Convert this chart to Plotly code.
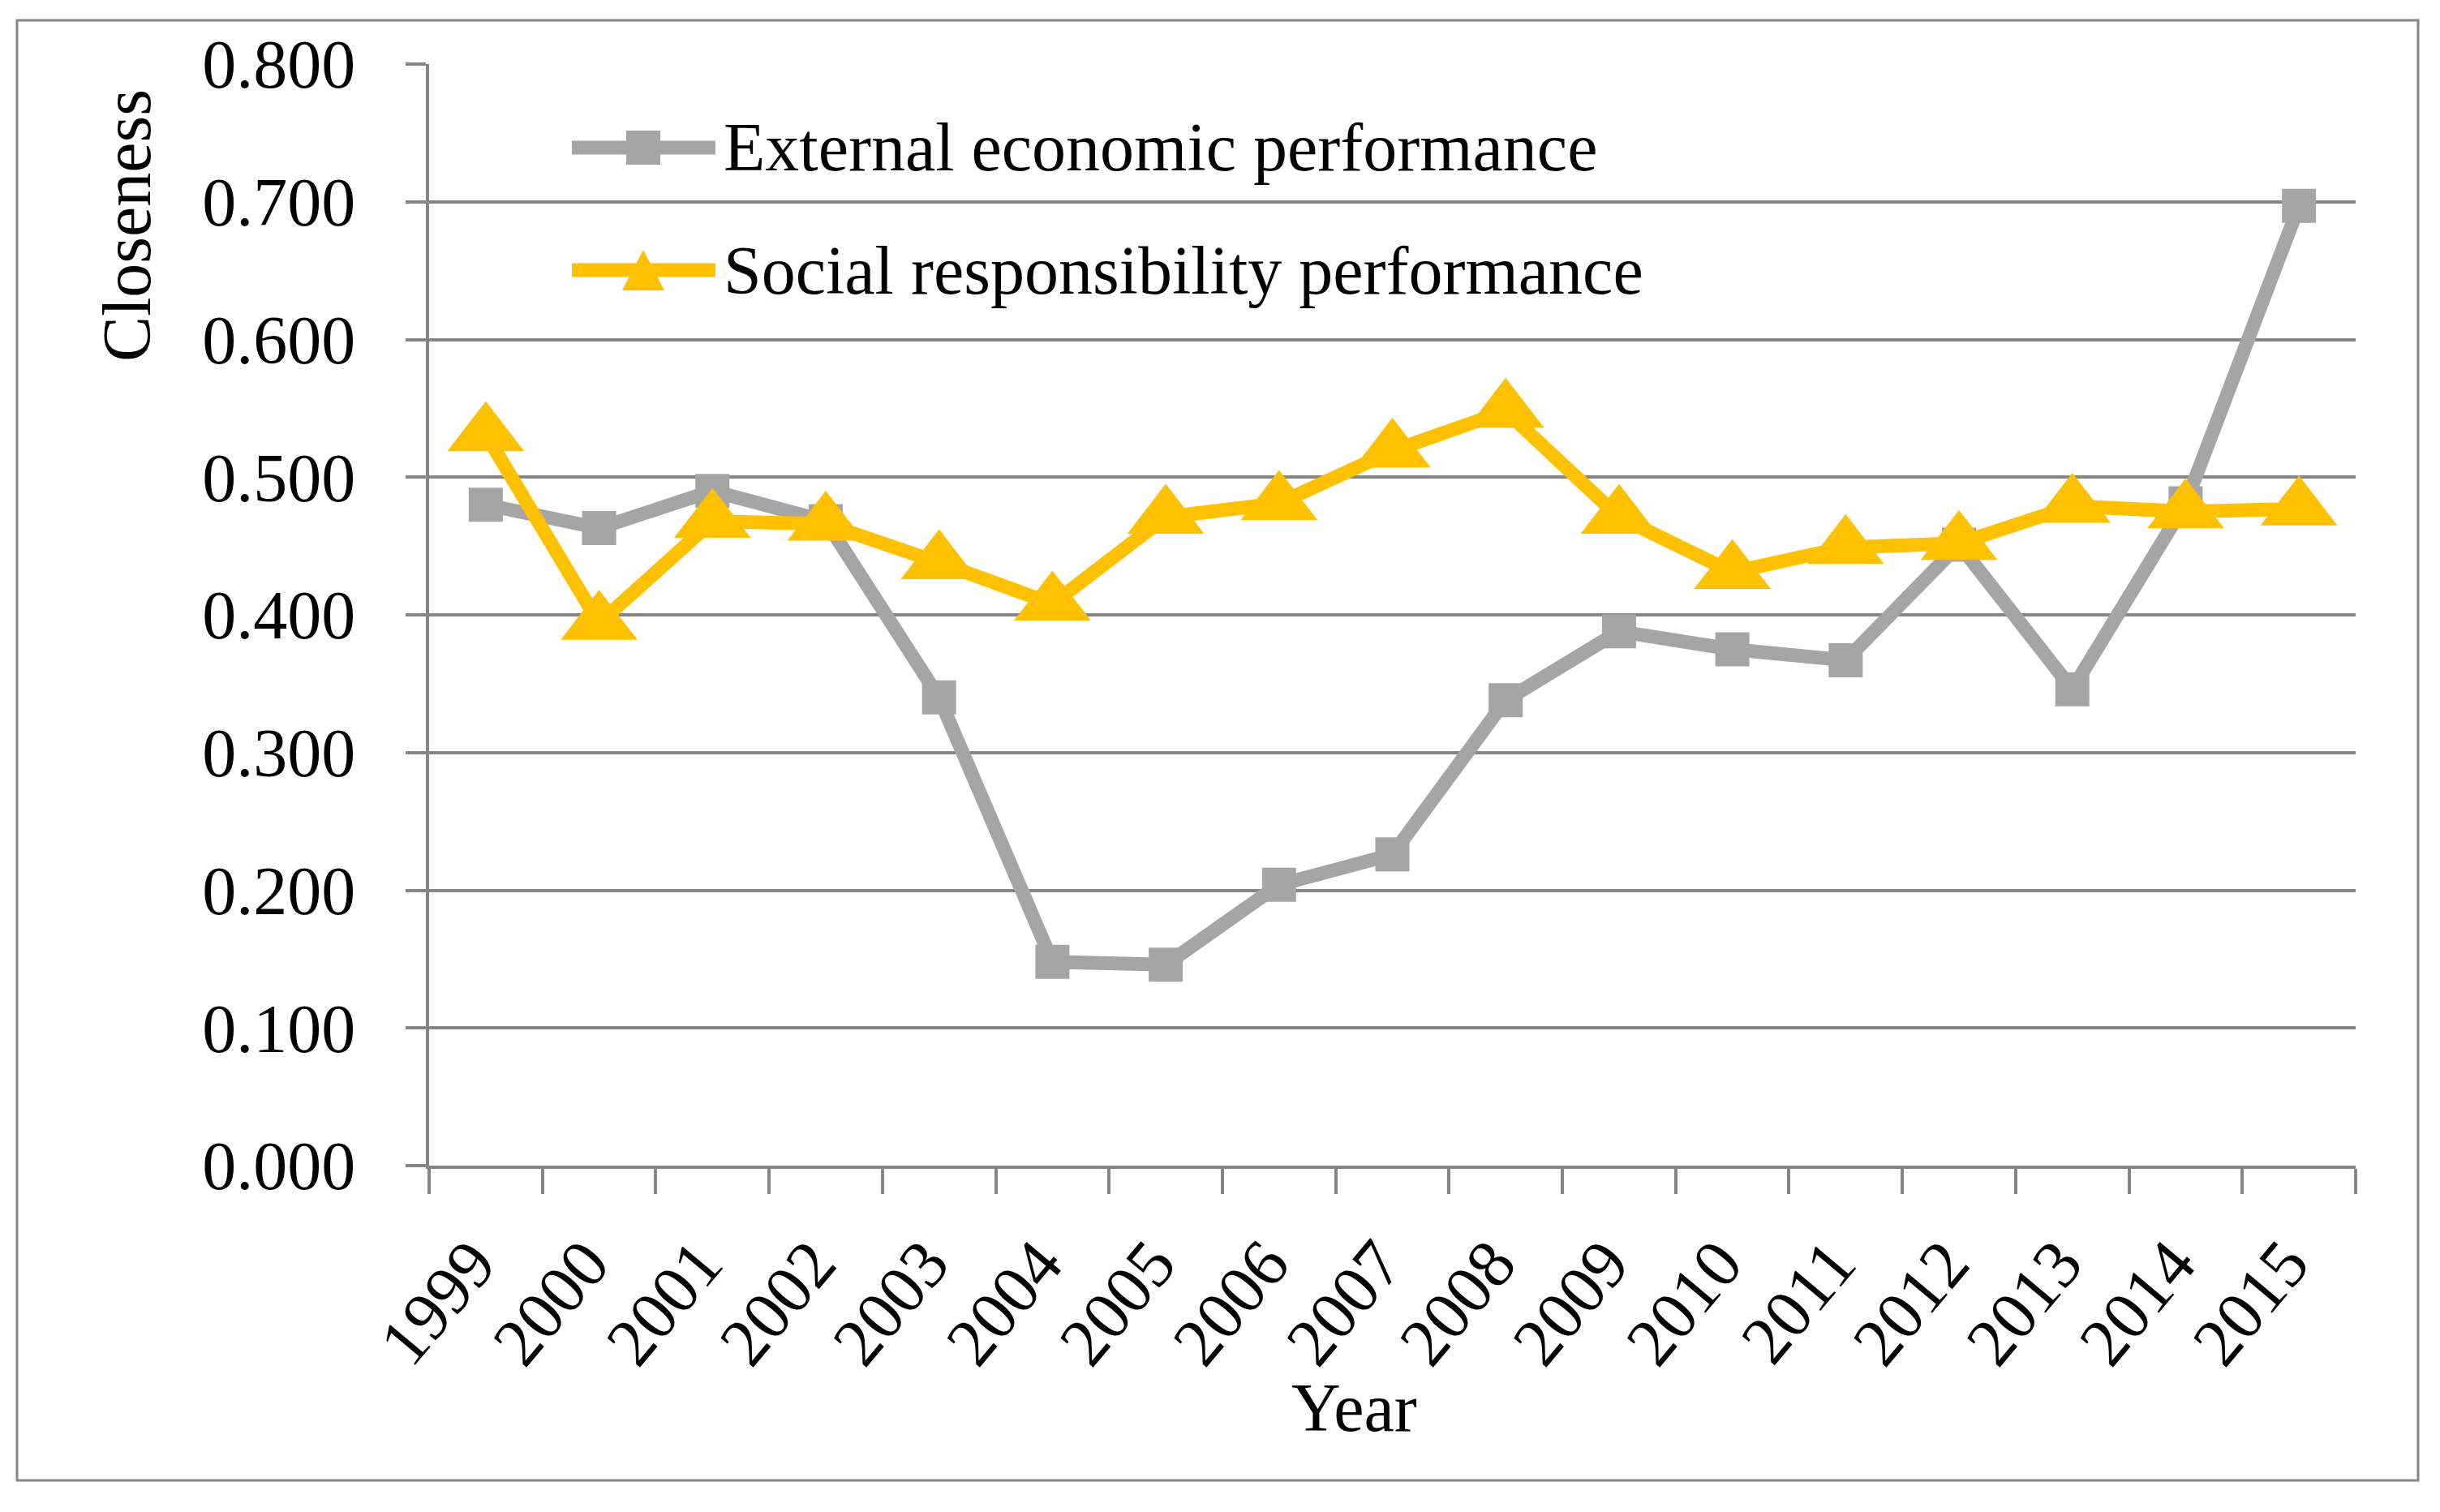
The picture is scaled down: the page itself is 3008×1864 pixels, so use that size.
import plotly.graph_objects as go

years = ["1999", "2000", "2001", "2002", "2003", "2004", "2005", "2006", "2007",
         "2008", "2009", "2010", "2011", "2012", "2013", "2014", "2015"]
external_economic = [0.480, 0.463, 0.490, 0.468, 0.340, 0.148, 0.146, 0.204, 0.226,
                     0.338, 0.388, 0.375, 0.367, 0.451, 0.346, 0.481, 0.697]
social_responsibility = [0.531, 0.394, 0.468, 0.466, 0.438, 0.408, 0.471, 0.481, 0.519,
                         0.548, 0.471, 0.431, 0.449, 0.452, 0.479, 0.475, 0.477]
series_names = ["External economic performance", "Social responsibility performance"]
y_ticks = [0.0, 0.1, 0.2, 0.3, 0.4, 0.5, 0.6, 0.7, 0.8]

GRAY = "#A5A5A5"
GOLD = "#FFC000"
AXIS = "#868686"
FONT = "Times New Roman, Liberation Serif, serif"

# page is 3008x1864, the html body adds an 8px margin around the figure
W, H = 3008, 1864
BODY = 8
# plot area in page pixels
PL, PR, PT, PB = 529, 2904, 79, 1437


def px_x(px):
    return (px - PL) / (PR - PL)


def px_y(py):
    return (PB - py) / (PB - PT)


def legend_shapes():
    shapes = []
    # outer frame
    shapes.append(dict(type="rect", xref="paper", yref="paper",
                       x0=px_x(21), x1=px_x(2981), y0=px_y(1825), y1=px_y(25),
                       line=dict(color=AXIS, width=3), layer="below"))
    for color, yc in ((GRAY, 182), (GOLD, 333)):
        shapes.append(dict(type="line", xref="paper", yref="paper",
                           x0=px_x(705), x1=px_x(882), y0=px_y(yc), y1=px_y(yc),
                           line=dict(color=color, width=17)))
    shapes.append(dict(type="rect", xref="paper", yref="paper",
                       xsizemode="pixel", ysizemode="pixel",
                       xanchor=px_x(793), yanchor=px_y(182),
                       x0=-21, x1=21, y0=-21, y1=21,
                       fillcolor=GRAY, line=dict(width=0)))
    shapes.append(dict(type="path", xref="paper", yref="paper",
                       xsizemode="pixel", ysizemode="pixel",
                       xanchor=px_x(793), yanchor=px_y(333),
                       path="M-26,-25 L26,-25 L0,25 Z",
                       fillcolor=GOLD, line=dict(width=0)))
    return shapes


def text_annotations():
    f = dict(family=FONT, size=84, color="black")
    anns = [
        dict(text="Closeness", textangle=-90, x=px_x(156), y=px_y(278)),
        dict(text="Year", x=px_x(1669), y=px_y(1735)),
        dict(text=series_names[0], x=px_x(890), y=px_y(182), xanchor="left"),
        dict(text=series_names[1], x=px_x(890), y=px_y(333), xanchor="left"),
    ]
    for a in anns:
        a.update(xref="paper", yref="paper", showarrow=False, font=f)
        a.setdefault("xanchor", "center")
        a.setdefault("yanchor", "middle")
    return anns


def plot() -> go.Figure:
    traces = [
        go.Scatter(x=years, y=external_economic, name=series_names[0],
                   mode="lines+markers",
                   line=dict(color=GRAY, width=17),
                   marker=dict(symbol="square", size=42, color=GRAY)),
        go.Scatter(x=years, y=social_responsibility, name=series_names[1],
                   mode="lines+markers",
                   line=dict(color=GOLD, width=17),
                   marker=dict(symbol="triangle-up", size=82, color=GOLD)),
    ]

    return go.Figure(
        data=traces,
        layout=dict(
            width=W - BODY,
            height=H - BODY,
            margin=dict(l=PL - BODY, r=W - PR, t=PT - BODY, b=H - PB, pad=0),
            paper_bgcolor="white",
            plot_bgcolor="white",
            showlegend=False,
            font=dict(family=FONT, size=84, color="black"),
            xaxis=dict(
                type="category",
                range=[-0.5, len(years) - 0.5],
                tickson="boundaries",
                ticks="outside",
                ticklen=31,
                tickwidth=4,
                tickcolor=AXIS,
                showline=True,
                linecolor=AXIS,
                linewidth=4,
                showgrid=False,
                tickangle=-50,
                ticklabelstandoff=33,
                ticklabelshift=-16,
                automargin=False,
                tickfont=dict(size=84),
            ),
            yaxis=dict(
                range=[0, 0.8],
                tickvals=y_ticks,
                tickformat=".3f",
                ticks="outside",
                ticklen=25,
                tickwidth=4,
                tickcolor=AXIS,
                showline=True,
                linecolor=AXIS,
                linewidth=4,
                showgrid=True,
                gridcolor=AXIS,
                gridwidth=4,
                zeroline=False,
                ticklabelstandoff=45,
                automargin=False,
            ),
            shapes=legend_shapes(),
            annotations=text_annotations(),
        ),
    )


if __name__ == "__main__":
    fig = plot()
    fig.write_html("out.html")
